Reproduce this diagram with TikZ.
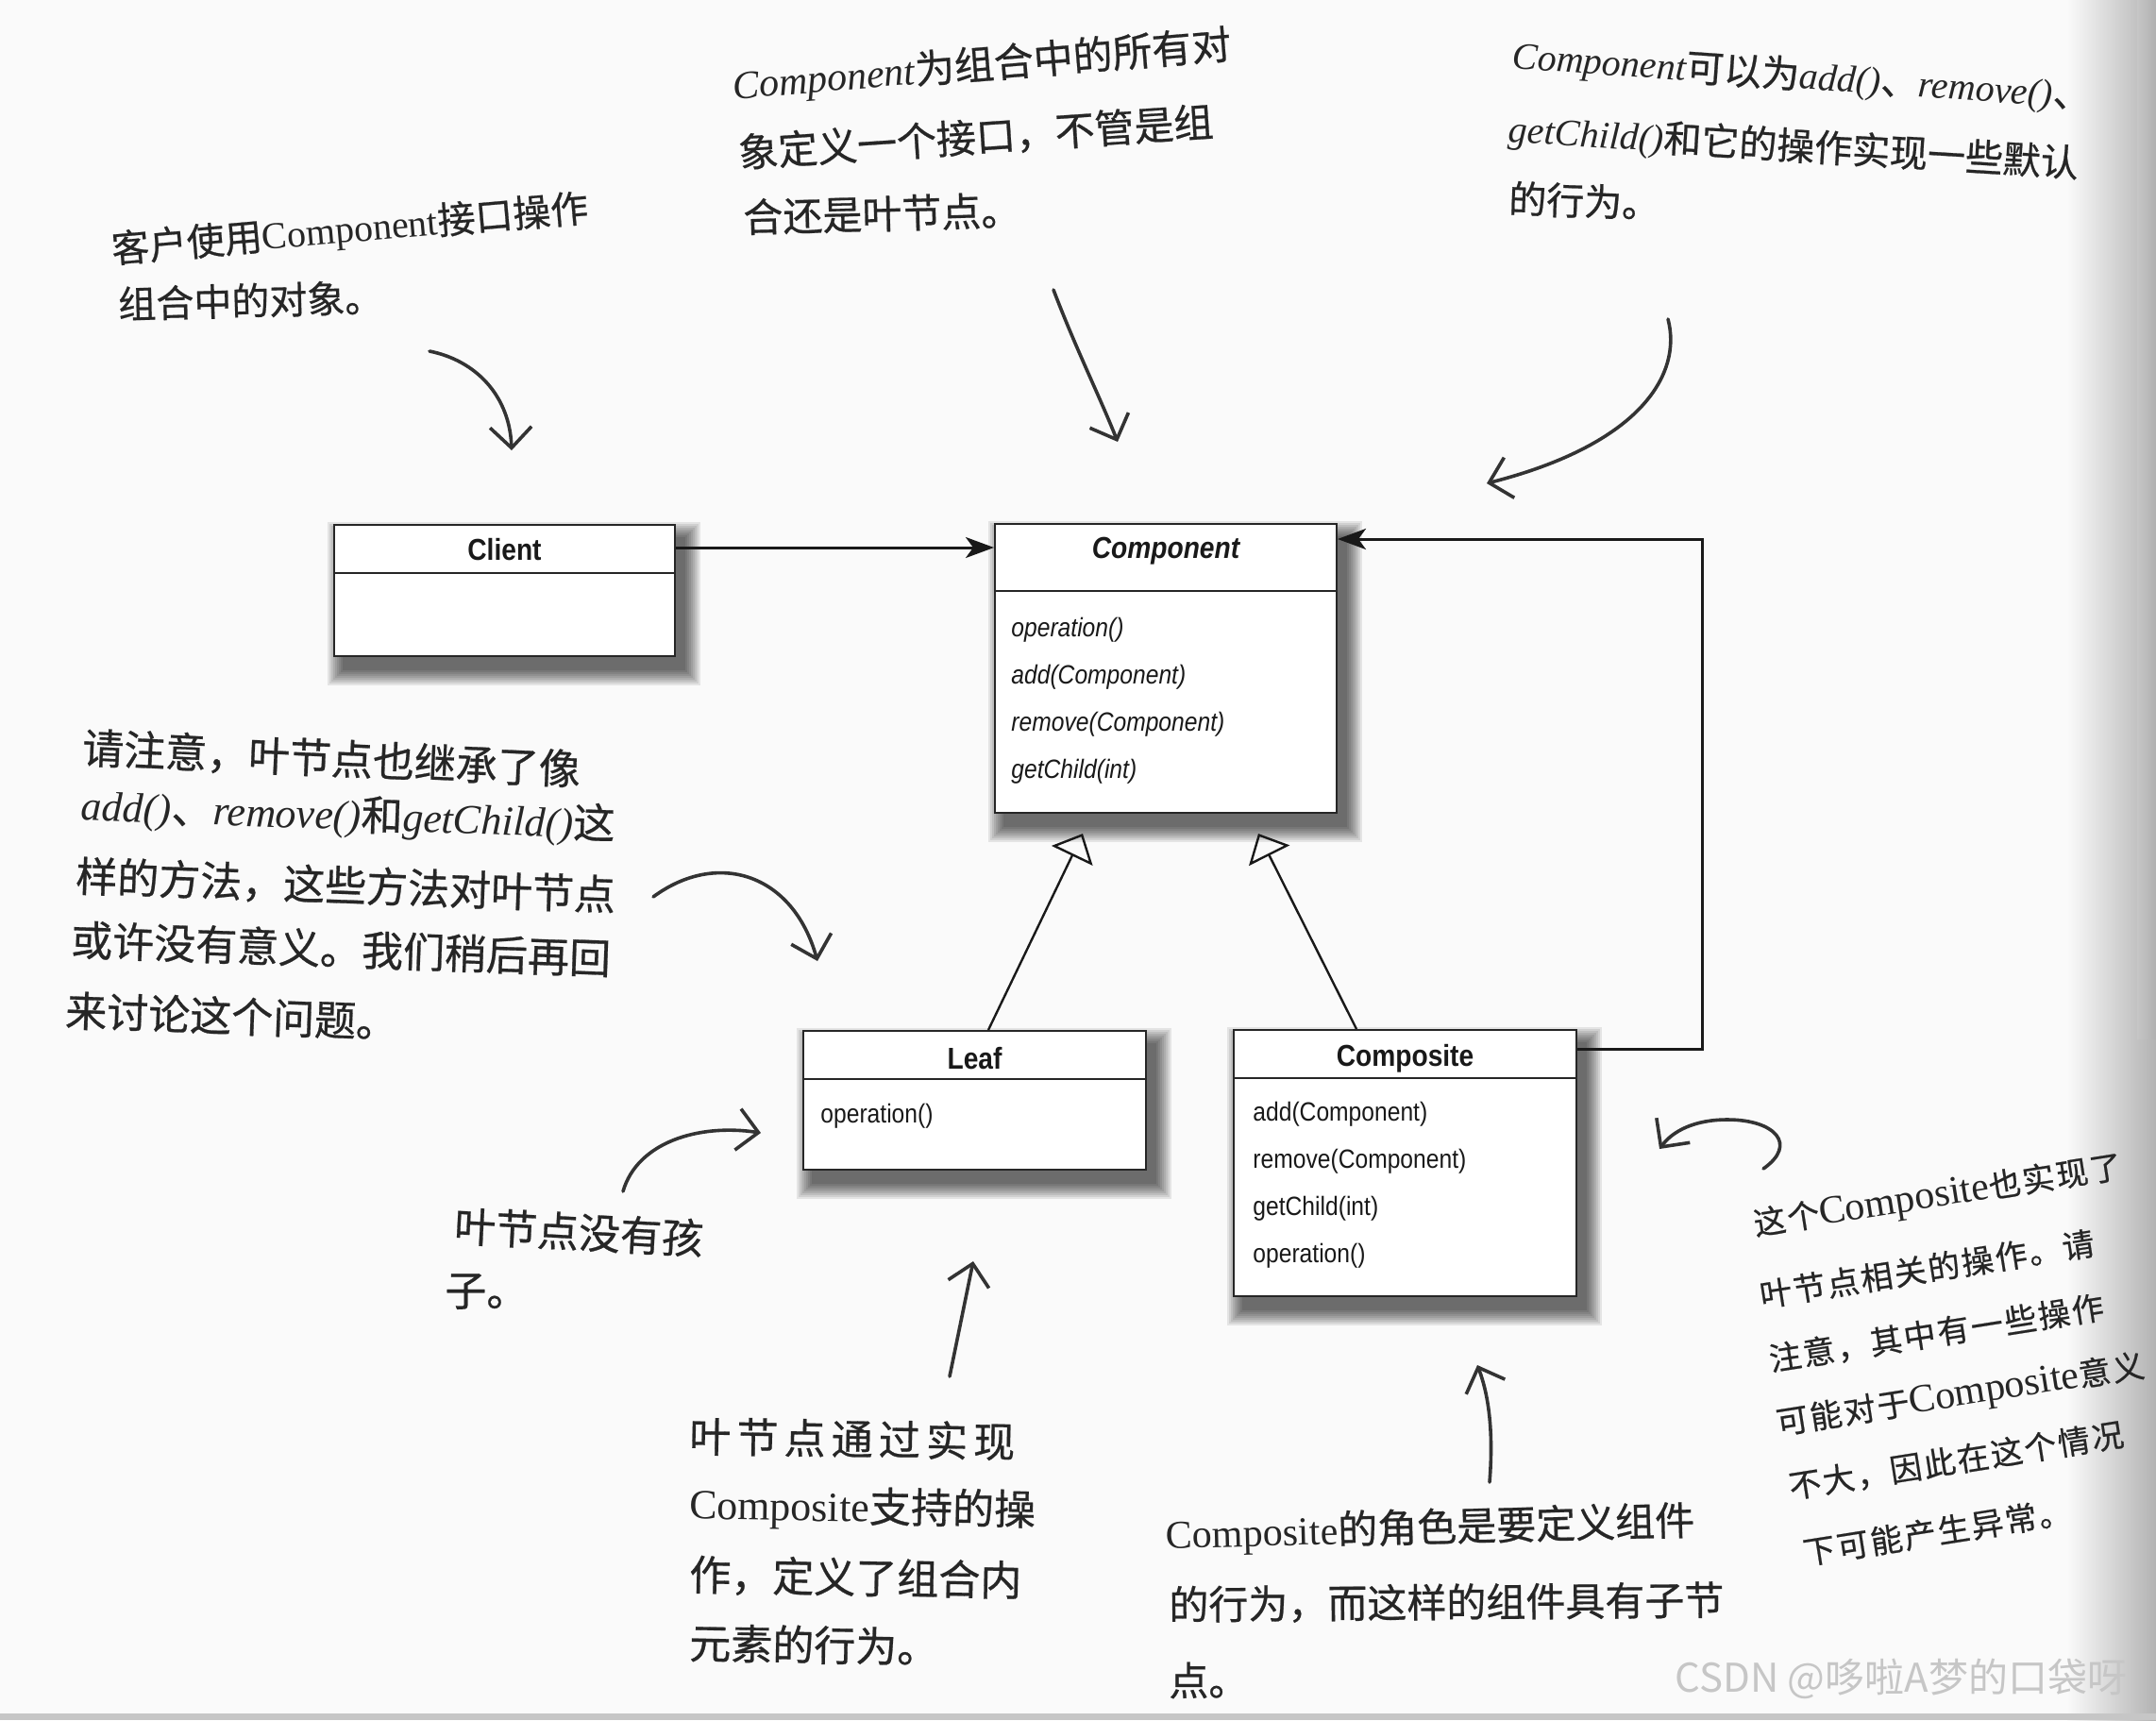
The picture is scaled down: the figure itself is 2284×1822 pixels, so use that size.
\documentclass[tikz,border=0pt]{standalone}
\usepackage{fontspec}
\usetikzlibrary{arrows.meta}
\newfontfamily\umlf[FakeStretch=0.88]{Liberation Sans}
\newfontfamily\hz[FakeBold=0.6]{Noto Sans CJK SC}
\newfontfamily\hzw[FakeBold=0.6,LetterSpace=14]{Noto Sans CJK SC}
\newfontfamily\hzn[FakeBold=0.6,LetterSpace=6]{Noto Sans CJK SC}
\newfontfamily\hl{Liberation Serif}
\newfontfamily\wmf{Noto Sans CJK SC}
\newcommand\hwi[1]{{\hl\itshape #1}}
\newcommand\hwu[1]{{\hl #1}}
\newcommand\hwU[1]{{\hl\fontsize{21pt}{21pt}\selectfont #1}}
\newcommand\fs[1]{\fontsize{#1}{#1}\selectfont}
\newcommand\boxshadow[1]{%
  \foreach \k in {0,...,8}{%
    \fill[black,opacity=0.085] ([shift={(10-2*\k,14-2*\k)}]#1.north west) rectangle ([shift={(10+2*\k,14+2*\k)}]#1.south east);
  }}
\pgfdeclarelayer{bg}
\pgfsetlayers{bg,main}
\tikzset{
  umlbox/.style={draw=black!85, line width=1pt, fill=white, inner sep=0pt, rectangle, anchor=north west},
  divider/.style={draw=black!85, line width=1pt},
  umltitle/.style={font={\umlf\bfseries\fs{16pt}}, inner sep=0pt, text=black!90},
  umlmeth/.style={font={\umlf\fs{14pt}}, inner sep=0pt, anchor=west, text=black!90},
  assoc/.style={draw=black!90, line width=1.5pt, -{Stealth[length=15pt,width=11pt,inset=4pt]}},
  inherit/.style={draw=black!90, line width=1.2pt, -{Triangle[open,length=13pt,width=24pt,line width=1.2pt]}},
  hw/.style={text=black!85, inner sep=0pt, anchor=west},
  hwarrow/.style={draw=black!80, line width=1.8pt, line cap=round, line join=round, -{Straight Barb[length=11pt,width=22pt,line width=1.8pt]}},
}
\begin{document}
\begin{tikzpicture}[x=0.5pt,y=-0.5pt]
\useasboundingbox (0,0) rectangle (2284,1822);

% ---------- UML boxes ----------
\node[umlbox, minimum width=180.5pt, minimum height=69.5pt] (client) at (353,555) {};
\node[umlbox, minimum width=181pt, minimum height=153pt] (component) at (1053,554) {};
\node[umlbox, minimum width=181.5pt, minimum height=73.5pt] (leaf) at (850,1091) {};
\node[umlbox, minimum width=181.5pt, minimum height=141pt] (composite) at (1306,1090) {};

\draw[divider] (client.west |- 0,607) -- (client.east |- 0,607);
\draw[divider] (component.west |- 0,626) -- (component.east |- 0,626);
\draw[divider] (leaf.west |- 0,1143) -- (leaf.east |- 0,1143);
\draw[divider] (composite.west |- 0,1142) -- (composite.east |- 0,1142);

\node[umltitle] (clientT) at (client.north |- 0,582) {Client};
\node[umltitle, font={\umlf\bfseries\itshape\fs{16pt}}] (componentT) at (component.north |- 0,584) {Component};
\node[umltitle] (leafT) at (leaf.north |- 0,1121) {Leaf};
\node[umltitle] (compositeT) at (composite.north |- 0,1121) {Composite};

\begin{scope}[umlmeth/.append style={font={\umlf\itshape\fs{14pt}}}]
\node[umlmeth] (cm1) at (1071,667) {operation()};
\node[umlmeth] (cm2) at (1071,717) {add(Component)};
\node[umlmeth] (cm3) at (1071,767) {remove(Component)};
\node[umlmeth] (cm4) at (1071,817) {getChild(int)};
\end{scope}
\node[umlmeth] (lm1) at (869,1182) {operation()};
\node[umlmeth] (pm1) at (1327,1180) {add(Component)};
\node[umlmeth] (pm2) at (1327,1230) {remove(Component)};
\node[umlmeth] (pm3) at (1327,1280) {getChild(int)};
\node[umlmeth] (pm4) at (1327,1330) {operation()};

% ---------- UML connectors ----------
\draw[assoc] (client.east |- 0,580) -- (component.west |- 0,580);
\coordinate (corner) at (1803,571);
\draw[assoc] (composite.east |- 0,1111) -| (corner) -- (component.east |- corner);
\coordinate (leaftip) at (1147,883);
\coordinate (comptip) at (1333,883);
\draw[inherit] (leaf.north -| 1047,0) -- (leaftip);
\draw[inherit] (composite.north -| 1437,0) -- (comptip);

% ---------- handwritten notes ----------
\node[hw, font={\hz\fs{20pt}}, rotate=5] (a1a) at (118,266) {客户使用\hwu{Component}接口操作};
\node[hw, font={\hz\fs{20pt}}, rotate=1.5] (a1b) at (125,322) {组合中的对象。};

\node[hw, font={\hz\fs{21pt}}, rotate=4.7] (a2a) at (776,92) {\hwi{Component}为组合中的所有对};
\node[hw, font={\hz\fs{21pt}}, rotate=3.8] (a2b) at (782,162) {象定义一个接口，不管是组};
\node[hw, font={\hz\fs{21pt}}, rotate=1.5] (a2c) at (787,230) {合还是叶节点。};

\node[hw, font={\hz\fs{20pt}}, rotate=-4] (a3a) at (1602,60) {\hwi{Component}可以为\hwi{add()}、\hwi{remove()}、};
\node[hw, font={\hz\fs{20pt}}, rotate=-3.5] (a3b) at (1598,138) {\hwi{getChild()}和它的操作实现一些默认};
\node[hw, font={\hz\fs{20pt}}, rotate=-2] (a3c) at (1598,210) {的行为。};

\node[hw, font={\hz\fs{22pt}}, rotate=-2.5] (a4a) at (87,792) {请注意，叶节点也继承了像};
\node[hw, font={\hz\fs{22pt}}, rotate=-2] (a4b) at (86,855) {\hwi{add()}、\hwi{remove()}和\hwi{getChild()}这};
\node[hw, font={\hz\fs{22pt}}, rotate=-2] (a4c) at (80,928) {样的方法，这些方法对叶节点};
\node[hw, font={\hz\fs{22pt}}, rotate=-2] (a4d) at (75,995) {或许没有意义。我们稍后再回};
\node[hw, font={\hz\fs{22pt}}, rotate=-2] (a4e) at (69,1070) {来讨论这个问题。};

\node[hw, font={\hz\fs{22pt}}, rotate=-3] (a5a) at (481,1298) {叶节点没有孩};
\node[hw, font={\hz\fs{22pt}}] (a5b) at (471,1368) {子。};

\node[hw, font={\hzw\fs{22pt}}, rotate=-1] (a6a) at (730,1521) {叶节点通过实现};
\node[hw, font={\hz\fs{22pt}}, rotate=-1] (a6b) at (730,1595) {\hwu{Composite}支持的操};
\node[hw, font={\hz\fs{22pt}}, rotate=-1] (a6c) at (730,1668) {作，定义了组合内};
\node[hw, font={\hz\fs{22pt}}, rotate=-1] (a6d) at (730,1740) {元素的行为。};

\node[hw, font={\hz\fs{21pt}}, rotate=1.5] (a7a) at (1235,1627) {\hwu{Composite}的角色是要定义组件};
\node[hw, font={\hz\fs{21pt}}, rotate=0.5] (a7b) at (1238,1700) {的行为，而这样的组件具有子节};
\node[hw, font={\hz\fs{21pt}}] (a7c) at (1238,1780) {点。};

\node[hw, font={\hzn\fs{17pt}}, rotate=9] (a8a) at (1858,1299) {这个\hwU{Composite}也实现了};
\node[hw, font={\hzn\fs{17pt}}, rotate=9] (a8b) at (1864,1372) {叶节点相关的操作。请};
\node[hw, font={\hzn\fs{17pt}}, rotate=9] (a8c) at (1874,1440) {注意，其中有一些操作};
\node[hw, font={\hzn\fs{17pt}}, rotate=9] (a8d) at (1882,1510) {可能对于\hwU{Composite}意义};
\node[hw, font={\hzn\fs{17pt}}, rotate=9] (a8e) at (1895,1575) {不大，因此在这个情况};
\node[hw, font={\hzn\fs{17pt}}, rotate=9] (a8f) at (1910,1645) {下可能产生异常。};

\node[font={\wmf\fs{21pt}}, text=gray!45, anchor=west, inner sep=0pt] (wm) at (1774,1778) {CSDN @哆啦A梦的口袋呀};

% ---------- handwritten arrows ----------
\coordinate (h1s) at (455,372);   \coordinate (h1e) at (542,477);
\coordinate (h2s) at (1116,307);  \coordinate (h2e) at (1184,468);
\coordinate (h3s) at (1767,338);  \coordinate (h3e) at (1575,512);
\coordinate (h4s) at (692,950);   \coordinate (h4e) at (866,1018);
\coordinate (h5s) at (660,1262);  \coordinate (h5e) at (806,1200);
\coordinate (h6s) at (1006,1458); \coordinate (h6e) at (1031,1336);
\coordinate (h7s) at (1578,1570); \coordinate (h7e) at (1565,1446);
\coordinate (h8s) at (1868,1238); \coordinate (h8e) at (1758,1217);
\draw[hwarrow] (h1s) .. controls (505,382) and (540,420) .. (h1e);
\draw[hwarrow] (h2s) .. controls (1140,370) and (1165,420) .. (h2e);
\draw[hwarrow] (h3s) .. controls (1782,395) and (1740,470) .. (h3e);
\draw[hwarrow] (h4s) .. controls (760,900) and (840,925) .. (h4e);
\draw[hwarrow] (h5s) .. controls (675,1210) and (740,1190) .. (h5e);
\draw[hwarrow] (h6s) -- (h6e);
\draw[hwarrow] (h7s) .. controls (1582,1520) and (1578,1480) .. (h7e);
\draw[hwarrow] (h8s) .. controls (1905,1212) and (1880,1186) .. (1830,1186) .. controls (1795,1186) and (1772,1198) .. (h8e);

% ---------- background ----------
\begin{pgfonlayer}{bg}
\fill[gray!4] (0,0) rectangle (2284,1822);
\shade[left color=gray!4, right color=gray!60] (2190,0) rectangle (2284,1822);
\shade[left color=gray!45, right color=gray!62] (2264,0) rectangle (2284,1100);
\fill[gray!45] (0,1815) rectangle (2284,1822);
\boxshadow{client}
\boxshadow{component}
\boxshadow{leaf}
\boxshadow{composite}
\end{pgfonlayer}
\end{tikzpicture}
\end{document}
